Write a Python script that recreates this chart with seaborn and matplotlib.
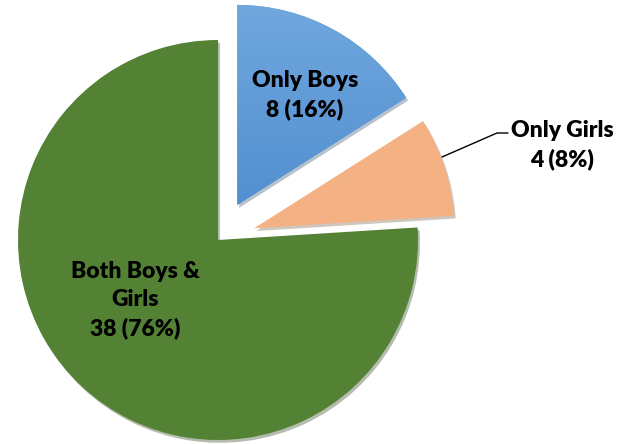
import numpy as np
import matplotlib
matplotlib.use("Agg")
import matplotlib.pyplot as plt
import seaborn as sns
from matplotlib.colors import LinearSegmentedColormap

categories = ["Only Boys", "Only Girls", "Both Boys &\nGirls"]
counts = [8, 4, 38]
colors = ["#5B9BD5", "#F4B183", "#548235"]

sns.set_theme(style="white")
plt.rcParams['font.family'] = ['Lato', 'DejaVu Sans']

fig = plt.figure(figsize=(6.22, 4.44), dpi=100)
ax = fig.add_axes([0, 0, 1, 1])
total = sum(counts)
explode = [0.2, 0.19, 0.0]
wedges, _ = ax.pie(counts, colors=colors, explode=explode, startangle=90,
                   counterclock=False, radius=1.0,
                   wedgeprops=dict(linewidth=0),
                   shadow={'ox': 0.007, 'oy': -0.01, 'shade': 0.5, 'alpha': 0.35})

# blue gradient
w = wedges[0]
grad = np.linspace(0, 1, 256).reshape(-1, 1)
cmap = LinearSegmentedColormap.from_list("b", ["#4787CC", "#74AADF"])
im = ax.imshow(grad, cmap=cmap, extent=(-0.2, 1.4, -0.2, 1.3), origin='lower',
               aspect='auto', zorder=w.get_zorder() + 0.1)
im.set_clip_path(w)

labels = [f"{c}\n{n} ({n / total:.0%})" for c, n in zip(categories, counts)]
fs = 16.5
kw = dict(ha='center', va='center', fontsize=fs, fontweight='heavy',
          color='black', linespacing=1.4, zorder=10)
ax.text(0.435, 0.725, labels[0], **kw)
ax.text(1.72, 0.475, labels[1], **kw)
ax.text(-0.415, -0.30, labels[2], **kw)
ax.plot([1.12, 1.395, 1.45], [0.415, 0.535, 0.535], color='black', lw=1.0, zorder=10)

ax.set_xlim(-1.09, 2.02)
ax.set_ylim(-1.02, 1.2)
ax.set_aspect('equal')
ax.axis('off')
fig.savefig("out.png", dpi=100)
